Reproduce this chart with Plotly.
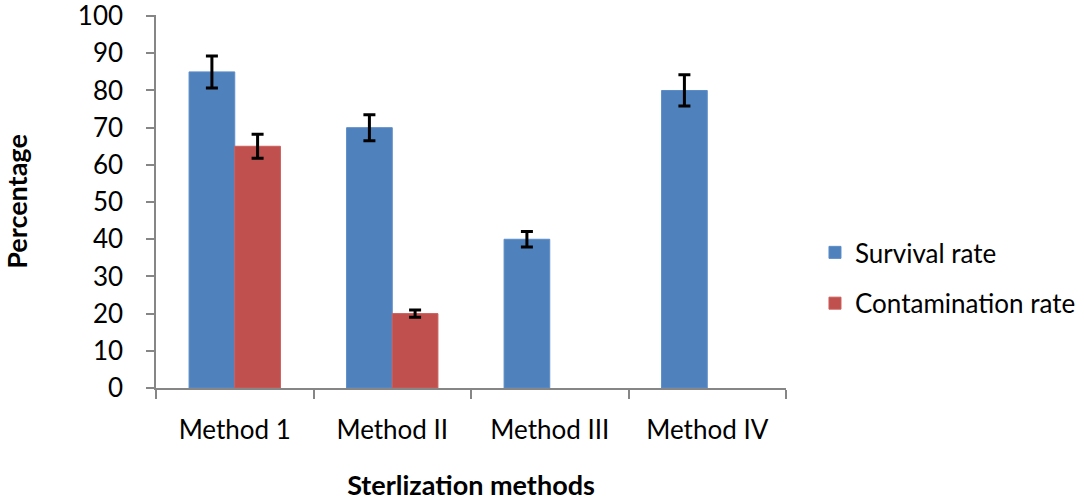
import plotly.graph_objects as go

categories = ["Method 1", "Method II", "Method III", "Method IV"]
survival = [85, 70, 40, 80]
survival_err = [4.3, 3.5, 2.1, 4.2]
contamination = [65, 20, None, None]
contamination_err = [3.2, 1.0, None, None]
y_ticks = [0, 10, 20, 30, 40, 50, 60, 70, 80, 90, 100]

FONT = "Lato"
AX = "#868686"

fig = go.Figure()
fig.add_trace(go.Bar(
    x=categories, y=survival, name="Survival rate", legendgroup="a",
    marker=dict(color="#4F81BD", line=dict(color="#5B8CC8", width=1)),
    error_y=dict(type="data", array=survival_err, visible=True,
                 color="black", thickness=3, width=6),
))
fig.add_trace(go.Bar(
    x=categories, y=contamination, name="Contamination rate", legendgroup="b",
    marker=dict(color="#C0504D", line=dict(color="#CC5E5B", width=1)),
    error_y=dict(type="data", array=contamination_err, visible=True,
                 color="black", thickness=3, width=6),
))

fig.update_layout(
    width=1084, height=502,
    margin=dict(l=156, r=298, t=15, b=114, autoexpand=False),
    paper_bgcolor="white", plot_bgcolor="white",
    barmode="group", bargap=0.42, bargroupgap=0,
    font=dict(family=FONT, size=26, color="black"),
    showlegend=True,
    legend=dict(x=1.046, y=0.295, xanchor="left", yanchor="middle",
                traceorder="grouped", tracegroupgap=14,
                font=dict(family=FONT, size=26, color="black"),
                bgcolor="rgba(0,0,0,0)"),
    xaxis=dict(
        type="category", range=[-0.5, 3.5],
        showline=True, linecolor=AX, linewidth=1.5,
        ticks="outside", tickson="boundaries", ticklen=9, tickcolor=AX, tickwidth=1.5,
        ticklabelstandoff=18,
        showgrid=False, zeroline=False,
        tickfont=dict(family=FONT, size=26, color="black"),
        title=dict(text="<b>Sterlization methods</b>", standoff=32,
                   font=dict(family=FONT, size=27, color="black")),
    ),
    yaxis=dict(
        range=[0, 100.3], tickvals=y_ticks,
        showline=True, linecolor=AX, linewidth=1.5,
        ticks="outside", ticklen=8, tickcolor=AX, tickwidth=1.5,
        ticklabelstandoff=18, ticklabeloverflow="allow",
        showgrid=False, zeroline=False,
        tickfont=dict(family=FONT, size=26, color="black"),
        title=dict(text="<b>Percentage</b>", standoff=61,
                   font=dict(family=FONT, size=27, color="black")),
    ),
)

fig.write_html("out.html", config={"displayModeBar": False},
               post_script="document.body.style.margin='0';")
